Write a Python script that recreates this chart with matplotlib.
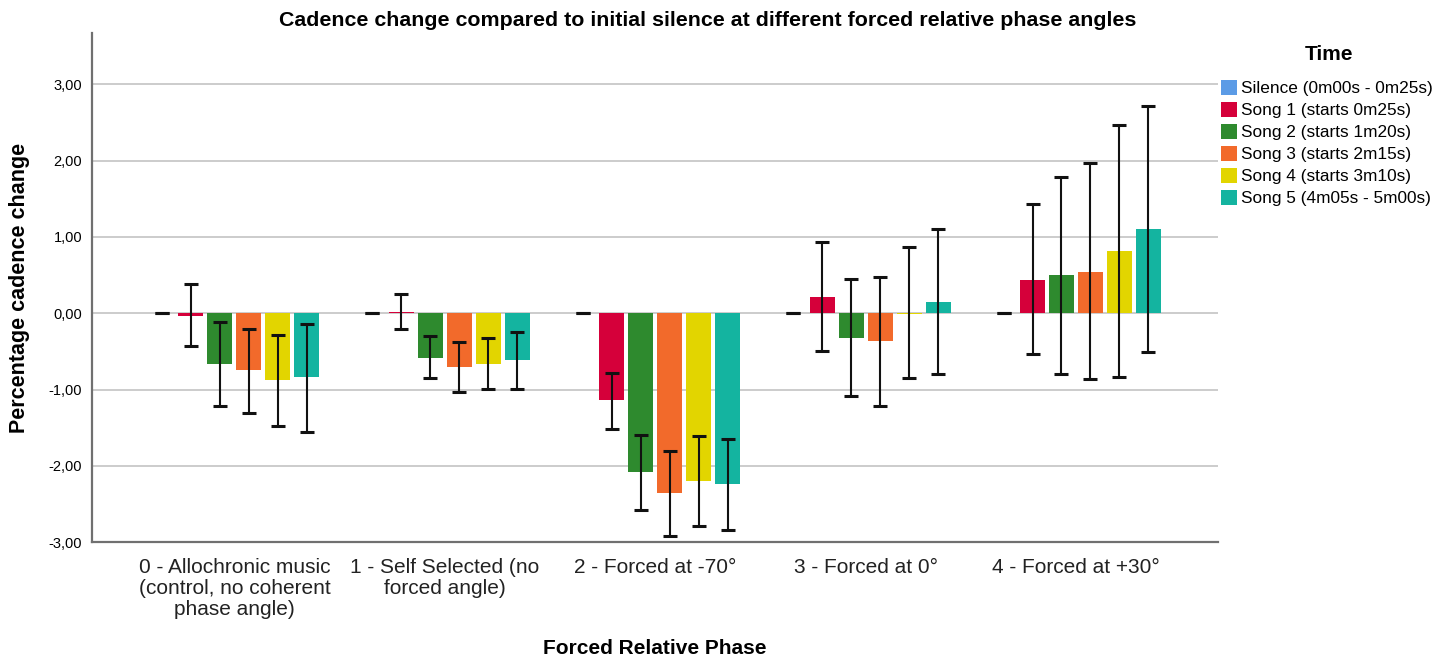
import matplotlib
matplotlib.use('Agg')
import matplotlib.pyplot as plt
import numpy as np
from matplotlib.patches import Patch

plt.rcParams['font.family'] = ['Liberation Sans', 'DejaVu Sans']

categories = ['0 - Allochronic music\n(control, no coherent\nphase angle)',
              '1 - Self Selected (no\nforced angle)',
              '2 - Forced at -70°',
              '3 - Forced at 0°',
              '4 - Forced at +30°']
series_names = ['Silence (0m00s - 0m25s)', 'Song 1 (starts 0m25s)', 'Song 2 (starts 1m20s)',
                'Song 3 (starts 2m15s)', 'Song 4 (starts 3m10s)', 'Song 5 (4m05s - 5m00s)']
colors = ['#5b9be6', '#d5003a', '#2e8a2e', '#f26a2b', '#e2d500', '#14b4a0']

silence = [0.0, 0.0, 0.0, 0.0, 0.0]
silence_lo = [0.0, 0.0, 0.0, 0.0, 0.0]
silence_hi = [0.0, 0.0, 0.0, 0.0, 0.0]
song1 = [-0.03, 0.02, -1.14, 0.21, 0.44]
song1_lo = [-0.43, -0.20, -1.51, -0.50, -0.54]
song1_hi = [0.38, 0.25, -0.78, 0.93, 1.43]
song2 = [-0.67, -0.58, -2.08, -0.32, 0.50]
song2_lo = [-1.21, -0.85, -2.58, -1.09, -0.79]
song2_hi = [-0.12, -0.30, -1.59, 0.45, 1.78]
song3 = [-0.75, -0.70, -2.35, -0.37, 0.54]
song3_lo = [-1.31, -1.03, -2.92, -1.22, -0.86]
song3_hi = [-0.20, -0.38, -1.80, 0.48, 1.97]
song4 = [-0.88, -0.66, -2.20, -0.01, 0.81]
song4_lo = [-1.48, -0.99, -2.79, -0.85, -0.84]
song4_hi = [-0.28, -0.33, -1.61, 0.87, 2.46]
song5 = [-0.84, -0.61, -2.24, 0.145, 1.10]
song5_lo = [-1.55, -0.99, -2.84, -0.79, -0.51]
song5_hi = [-0.14, -0.25, -1.65, 1.10, 2.72]

values = [silence, song1, song2, song3, song4, song5]
lows = [silence_lo, song1_lo, song2_lo, song3_lo, song4_lo, song5_lo]
highs = [silence_hi, song1_hi, song2_hi, song3_hi, song4_hi, song5_hi]

W, H = 1452, 659
fig = plt.figure(figsize=(W / 100, H / 100), dpi=100)
ax = fig.add_axes([92 / W, 1 - 542.3 / H, (1218 - 92) / W, (542.3 - 33) / H])

x = np.arange(len(categories))
slot = 0.1378
bw = 0.119
for i, (vals, lo, hi, c) in enumerate(zip(values, lows, highs, colors)):
    pos = x + (i - 2.5) * slot
    v = np.array(vals)
    ax.bar(pos, v, width=bw, color=c, zorder=2)
    yerr = np.vstack([v - np.array(lo), np.array(hi) - v])
    ax.errorbar(pos, v, yerr=yerr, fmt='none', ecolor='#111111', elinewidth=1.5,
                capsize=4.8, capthick=2.2, zorder=3)

ax.set_xlim(-0.677, 4.675)
ax.set_ylim(-3, 3.67)
ax.set_yticks([-3, -2, -1, 0, 1, 2, 3])
ax.set_yticklabels([f'{t:.2f}'.replace('.', ',') for t in [-3, -2, -1, 0, 1, 2, 3]], fontsize=10.5)
ax.set_xticks(x)
ax.set_xticklabels(categories, fontsize=15, linespacing=1.15, color='#222222')
ax.tick_params(axis='both', length=0)
ax.tick_params(axis='y', pad=7)
ax.tick_params(axis='x', pad=11)
ax.yaxis.grid(True, color='#c8c8c8', linewidth=1.3, zorder=0)
ax.set_axisbelow(True)
for s in ['top', 'right']:
    ax.spines[s].set_visible(False)
for s in ['left', 'bottom']:
    ax.spines[s].set_color('#707070')
    ax.spines[s].set_linewidth(1.6)

fig.text(20 / W, 1 - 287.5 / H, 'Percentage cadence change', rotation=90, fontsize=15.5,
         fontweight='bold', ha='center', va='center')
fig.text(655 / W, 1 - 648 / H, 'Forced Relative Phase', fontsize=15,
         fontweight='bold', ha='center', va='center')
fig.text(707.5 / W, 1 - 20 / H,
         'Cadence change compared to initial silence at different forced relative phase angles',
         fontsize=15.4, fontweight='bold', ha='center', va='center')
fig.text(1329 / W, 1 - 54 / H, 'Time', fontsize=15, fontweight='bold', ha='center', va='center')

handles = [Patch(facecolor=c, edgecolor='none') for c in colors]
leg = fig.legend(handles, series_names, loc='upper left',
                 bbox_to_anchor=(1221 / W, 1 - 80 / H), borderaxespad=0, borderpad=0,
                 frameon=False, fontsize=12.4,
                 handlelength=0.93, handleheight=0.93, handletextpad=0.25,
                 labelspacing=0.337)

fig.savefig('out.png', dpi=100)
